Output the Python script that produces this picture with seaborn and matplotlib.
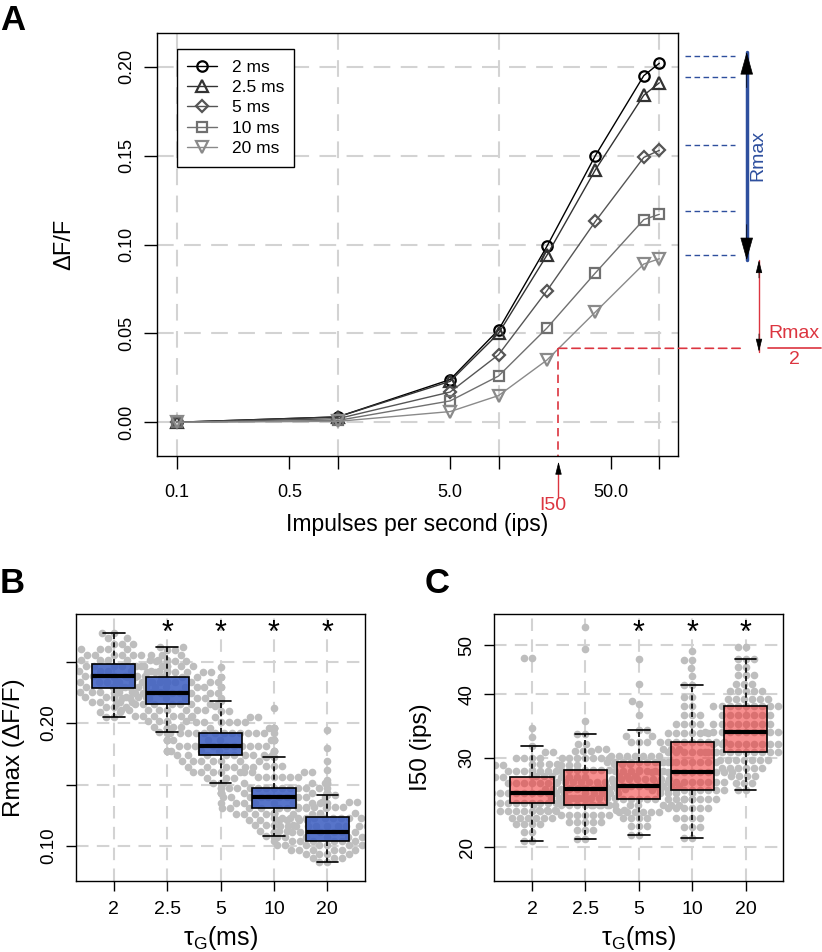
import numpy as np
import matplotlib
matplotlib.use("Agg")
import matplotlib.pyplot as plt
import matplotlib.transforms as mtransforms
from matplotlib.ticker import NullLocator
import seaborn as sns

# ------------------------
# DATA
# ------------------------
# Panel A: response vs stimulation frequency
ips = [0.1, 1, 5, 10, 20, 40, 80, 100]
tau_labels = ["2 ms", "2.5 ms", "5 ms", "10 ms", "20 ms"]
dff_2ms = [0, 0.003, 0.024, 0.052, 0.099, 0.150, 0.195, 0.202]
dff_25ms = [0, 0.003, 0.023, 0.050, 0.094, 0.142, 0.184, 0.191]
dff_5ms = [0, 0.002, 0.017, 0.038, 0.074, 0.113, 0.149, 0.153]
dff_10ms = [0, 0.001, 0.012, 0.026, 0.053, 0.084, 0.114, 0.117]
dff_20ms = [0, 0.0005, 0.006, 0.015, 0.035, 0.062, 0.089, 0.092]

rmax_marks = [0.2058, 0.1944, 0.1558, 0.1191, 0.0940]
rmax_arrow = [0.2083, 0.0912]
half_arrow = [0.0912, 0.0397]
half_rmax = 0.0416
i50 = 23.6

# Panels B and C: groups
tau_groups = ["2", "2.5", "5", "10", "20"]
sig_b = [False, True, True, True, True]
sig_c = [False, False, True, True, True]

# Rmax (dF/F) rows of the swarm: values and how many dots per row
rmax_2_val = [0.205, 0.209, 0.213, 0.217, 0.221, 0.2255, 0.2295, 0.2335, 0.238, 0.242, 0.2465,
              0.251, 0.2555, 0.260, 0.2645, 0.269, 0.273]
rmax_2_cnt = [2, 2, 3, 4, 6, 8, 8, 9, 9, 10, 14, 8, 6, 4, 3, 2, 2]
rmax_25_val = [0.1925, 0.197, 0.2015, 0.206, 0.2105, 0.2155, 0.220, 0.2246, 0.229, 0.2335, 0.2371,
               0.2415, 0.246, 0.2505, 0.255, 0.2595, 0.2615]
rmax_25_cnt = [2, 3, 4, 6, 8, 9, 9, 10, 9, 8, 9, 7, 5, 4, 3, 2, 2]
rmax_5_val = [0.151, 0.1555, 0.160, 0.1645, 0.169, 0.1737, 0.1775, 0.1815, 0.186, 0.1916,
              0.196, 0.2005, 0.205, 0.2095, 0.214, 0.2181, 0.2455]
rmax_5_cnt = [2, 3, 5, 6, 7, 9, 9, 10, 11, 14, 9, 6, 4, 2, 1, 1, 1]
rmax_10_val = [0.108, 0.1125, 0.117, 0.1215, 0.126, 0.1306, 0.135, 0.1396, 0.1435, 0.1472,
               0.1515, 0.156, 0.1605, 0.165, 0.1721, 0.212]
rmax_10_cnt = [2, 3, 4, 6, 8, 9, 9, 10, 11, 14, 8, 6, 4, 3, 2, 1]
rmax_20_val = [0.0867, 0.090, 0.0935, 0.097, 0.1005, 0.1043, 0.1077, 0.1111, 0.1165, 0.1225,
               0.127, 0.1315, 0.136, 0.1415, 0.1537, 0.1618, 0.169, 0.180, 0.1943]
rmax_20_cnt = [2, 3, 4, 6, 8, 9, 9, 10, 11, 13, 8, 6, 4, 2, 1, 1, 1, 1, 1]

# I50 (ips) rows of the swarm
i50_2_val = [20.6, 21.4, 22.2, 22.9, 23.6, 24.5, 25.0, 25.6, 26.2, 26.8, 27.5, 28.3, 29.1,
             30.0, 30.8, 31.6, 33.0, 34.4, 47.2]
i50_2_cnt = [2, 2, 4, 6, 8, 10, 9, 11, 8, 7, 9, 7, 6, 4, 2, 1, 1, 1, 2]
i50_25_val = [20.8, 21.6, 22.4, 23.2, 23.7, 24.2, 25.0, 26.1, 26.9, 27.6, 28.4, 29.2, 30.0,
              31.0, 32.0, 33.5, 35.4, 49.1, 54.3]
i50_25_cnt = [2, 3, 5, 7, 5, 10, 9, 11, 8, 7, 9, 7, 7, 3, 2, 2, 1, 1, 1]
i50_5_val = [21.2, 22.0, 22.8, 23.5, 24.2, 24.9, 25.6, 26.4, 27.3, 28.3, 29.4, 30.3, 31.2,
             32.2, 33.1, 34.0, 36.4, 38.3, 38.9, 42.0, 46.9]
i50_5_cnt = [2, 3, 4, 6, 7, 10, 9, 11, 8, 7, 9, 7, 5, 3, 2, 2, 1, 1, 1, 1, 1]
i50_10_val = [20.9, 21.9, 22.9, 23.9, 24.9, 25.9, 26.9, 28.1, 29.4, 30.8, 32.3, 33.6, 35.0,
              36.5, 38.0, 39.6, 41.8, 43.5, 45.0, 46.8, 48.7]
i50_10_cnt = [2, 3, 4, 6, 7, 10, 9, 11, 8, 7, 9, 6, 4, 3, 2, 2, 2, 1, 1, 2, 1]
i50_20_val = [25.9, 26.8, 27.7, 28.7, 29.7, 30.8, 32.0, 33.8, 35.0, 36.4, 37.9, 39.2, 40.6,
              42.0, 43.6, 45.2, 46.9, 49.5]
i50_20_cnt = [2, 3, 4, 6, 7, 10, 9, 11, 8, 7, 9, 6, 5, 3, 3, 2, 3, 2]

# ------------------------
# STYLE
# ------------------------
sns.set_style("ticks")
plt.rcParams["font.family"] = ["Liberation Sans", "DejaVu Sans"]
plt.rcParams["mathtext.default"] = "regular"
for key in ["text.color", "axes.labelcolor", "xtick.color", "ytick.color", "axes.edgecolor"]:
    plt.rcParams[key] = "black"
plt.rcParams["axes.linewidth"] = 1.0

grid_col = "#d3d3d3"
dot_gray = "#bebebe"
blue = "#2e4f9e"
red = "#dc3540"
line_grays = ["#000000", "#333333", "#555555", "#707070", "#8a8a8a"]
markers = ["o", "^", "D", "s", "v"]
msizes = [7.5, 8.5, 6.5, 6.5, 8.5]

fig = plt.figure(figsize=(8.22, 9.52), dpi=100)
axA = fig.add_axes([0.1910, 0.5210, 0.6338, 0.4443])
axB = fig.add_axes([0.0925, 0.0749, 0.3516, 0.2798])
axC = fig.add_axes([0.6013, 0.0749, 0.3516, 0.2798])

# ------------------------
# PANEL A
# ------------------------
for v in [0.1, 1, 10, 100]:
    axA.axvline(v, color=grid_col, lw=1.5, ls=(0, (8, 5)), zorder=0)
for v in [0, 0.05, 0.10, 0.15, 0.20]:
    axA.axhline(v, color=grid_col, lw=1.5, ls=(0, (8, 5)), zorder=0)

series = [dff_2ms, dff_25ms, dff_5ms, dff_10ms, dff_20ms]
for lab, vals, col, mk, ms in zip(tau_labels, series, line_grays, markers, msizes):
    sns.lineplot(x=ips, y=vals, color=col, marker=mk, markersize=ms, mfc="none",
                 mec=col, mew=1.6, lw=1.0, label=lab, ax=axA)

axA.set_xscale("log")
axA.set_xlim(0.0752, 130.6)
axA.set_ylim(-0.019, 0.219)
axA.xaxis.set_minor_locator(NullLocator())
axA.set_xticks([0.1, 0.5, 1, 5, 10, 50, 100])
axA.set_xticklabels(["0.1", "0.5", "", "5.0", "", "50.0", ""])
axA.set_yticks([0, 0.05, 0.10, 0.15, 0.20])
axA.set_yticklabels(["0.00", "0.05", "0.10", "0.15", "0.20"])
axA.tick_params(axis="x", length=9.4, width=1, pad=11, labelsize=13, direction="out", bottom=True)
axA.tick_params(axis="y", length=9.4, width=1, pad=6, labelsize=13, direction="out", left=True,
                labelrotation=90)
for t in axA.get_yticklabels():
    t.set_va("center")
axA.set_xlabel("Impulses per second (ips)", fontsize=16.5)
axA.set_ylabel("ΔF/F", fontsize=17)
axA.xaxis.set_label_coords(0.5, -0.135)
axA.yaxis.set_label_coords(-0.157, 0.5)

leg = axA.legend(loc="upper left", bbox_to_anchor=(0.0384, 0.962), borderaxespad=0,
                 frameon=True, fancybox=False, edgecolor="black", fontsize=12.5,
                 handlelength=1.7, handletextpad=0.85, labelspacing=0.3, borderpad=0.6)
leg.get_frame().set_linewidth(1.0)
leg.get_frame().set_alpha(1)

# right side annotations
trA = mtransforms.blended_transform_factory(axA.transAxes, axA.transData)
for lv in rmax_marks:
    axA.plot([1.0134, 1.1094], [lv, lv], transform=trA, color=blue, lw=1.0,
             ls=(0, (4, 2.5)), clip_on=False)
axA.plot([1.1319, 1.1319], rmax_arrow, transform=trA, color=blue, lw=2.5, clip_on=False)
for y0, y1 in [(rmax_arrow[0] - 0.02, rmax_arrow[0]), (rmax_arrow[1] + 0.02, rmax_arrow[1])]:
    axA.annotate("", xy=(1.1319, y1), xytext=(1.1319, y0), xycoords=trA, textcoords=trA,
                 arrowprops=dict(arrowstyle="-|>,head_length=1.5,head_width=0.42",
                                 color="black", lw=0.5, shrinkA=0, shrinkB=0,
                                 mutation_scale=10))
axA.text(1.1536, 0.150, "Rmax", transform=trA, rotation=90, color=blue, fontsize=14,
         ha="center", va="center")

axA.plot([1.1555, 1.1555], half_arrow, transform=trA, color=red, lw=1.0, clip_on=False)
for y0, y1 in [(half_arrow[0] - 0.01, half_arrow[0]), (half_arrow[1] + 0.01, half_arrow[1])]:
    axA.annotate("", xy=(1.1555, y1), xytext=(1.1555, y0), xycoords=trA, textcoords=trA,
                 arrowprops=dict(arrowstyle="-|>,head_length=0.8,head_width=0.2",
                                 color="black", lw=0.5, shrinkA=0, shrinkB=0,
                                 mutation_scale=10))
axA.text(1.2226, 0.0502, "Rmax", transform=trA, color=red, fontsize=14, ha="center", va="center")
axA.plot([1.1727, 1.2737], [half_rmax, half_rmax], transform=trA, color=red, lw=1.2, clip_on=False)
axA.text(1.2226, 0.0352, "2", transform=trA, color=red, fontsize=14, ha="center", va="center")

# I50 guides
axA.annotate("", xy=(1.128, half_rmax), xytext=(i50, half_rmax), xycoords=trA, textcoords="data",
             arrowprops=dict(arrowstyle="-", color=red, lw=1.2, linestyle=(0, (5, 3)),
                             shrinkA=0, shrinkB=0))
axA.plot([i50, i50], [half_rmax, -0.019], color=red, lw=1.2, ls=(0, (5, 3)))
trA2 = mtransforms.blended_transform_factory(axA.transData, axA.transAxes)
axA.plot([i50, i50], [-0.097, -0.03], transform=trA2, color=red, lw=1.0, clip_on=False)
axA.annotate("", xy=(i50, -0.0135), xytext=(i50, -0.035), xycoords=trA2, textcoords=trA2,
             arrowprops=dict(arrowstyle="-|>,head_length=0.8,head_width=0.2", color="black",
                             lw=0.5, shrinkA=0, shrinkB=0, mutation_scale=10))
axA.annotate("I50", xy=(i50, -0.117), xycoords=trA2, xytext=(-4, 0), textcoords="offset points",
             color=red, fontsize=14, ha="center", va="center")

# ------------------------
# PANELS B and C
# ------------------------
positions = np.arange(len(tau_groups)) * 0.4


def swarm_box(ax, vals_list, cnt_list, face):
    xs, ys = [], []
    for pos, vals, cnts in zip(positions, vals_list, cnt_list):
        y = np.repeat(vals, cnts)
        x = np.full(len(y), pos)
        sns.swarmplot(x=x, y=y, native_scale=True, orient="x", color=dot_gray, size=5.5,
                      ax=ax, zorder=1, warn_thresh=1)
        xs.append(x)
        ys.append(y)
    sns.boxplot(x=np.concatenate(xs), y=np.concatenate(ys), native_scale=True, orient="x",
                width=0.81, showfliers=False, whis=1.5, ax=ax,
                boxprops=dict(facecolor=face, edgecolor="black", linewidth=1.2, zorder=3),
                whiskerprops=dict(color="black", linestyle=(0, (3, 2)), linewidth=1.2, zorder=3),
                capprops=dict(color="black", linewidth=1.2, zorder=3),
                medianprops=dict(color="black", linewidth=3, zorder=4))


rmax_vals = [rmax_2_val, rmax_25_val, rmax_5_val, rmax_10_val, rmax_20_val]
rmax_cnts = [rmax_2_cnt, rmax_25_cnt, rmax_5_cnt, rmax_10_cnt, rmax_20_cnt]
i50_vals = [i50_2_val, i50_25_val, i50_5_val, i50_10_val, i50_20_val]
i50_cnts = [i50_2_cnt, i50_25_cnt, i50_5_cnt, i50_10_cnt, i50_20_cnt]

swarm_box(axB, rmax_vals, rmax_cnts, (0.25, 0.38, 0.76, 0.88))
swarm_box(axC, i50_vals, i50_cnts, (0.95, 0.2, 0.2, 0.55))

axC.set_yscale("log")

for ax in (axB, axC):
    for p in positions:
        ax.axvline(p, color=grid_col, lw=1.5, ls=(0, (6, 4)), zorder=0)
    ax.set_xlim(-0.2824, 1.8824)
    ax.set_xticks(positions)
    ax.set_xticklabels(tau_groups)
    ax.tick_params(axis="x", length=7.5, width=1, pad=7, labelsize=14, bottom=True)
    ax.tick_params(axis="y", length=7.5, width=1, pad=6, labelsize=13.5, left=True,
                   labelrotation=90)
    ax.set_xlabel("τ$_{G}$(ms)", fontsize=18)
    ax.xaxis.set_label_coords(0.5, -0.163)
    for s in ax.spines.values():
        s.set_color("black")
        s.set_linewidth(1.0)

for v in [0.10, 0.15, 0.20, 0.25]:
    axB.axhline(v, color=grid_col, lw=1.5, ls=(0, (6, 4)), zorder=0)
axB.set_ylim(0.0718, 0.2884)
axB.set_yticks([0.10, 0.15, 0.20, 0.25])
axB.set_yticklabels(["0.10", "", "0.20", ""])
axB.set_ylabel("Rmax (ΔF/F)", fontsize=17.5)
axB.yaxis.set_label_coords(-0.1765, 0.5)

for v in [20, 30, 40, 50]:
    axC.axhline(v, color=grid_col, lw=1.5, ls=(0, (6, 4)), zorder=0)
axC.set_ylim(17.2, 57.5)
axC.yaxis.set_minor_locator(NullLocator())
axC.set_yticks([20, 30, 40, 50])
axC.set_yticklabels(["20", "30", "40", "50"])
axC.set_ylabel("I50 (ips)", fontsize=17.5)
axC.yaxis.set_label_coords(-0.2156, 0.5)

for ax in (axB, axC):
    for t in ax.get_yticklabels():
        t.set_va("center")

for ax, sig in ((axB, sig_b), (axC, sig_c)):
    tr = mtransforms.blended_transform_factory(ax.transData, ax.transAxes)
    for p, s in zip(positions, sig):
        if s:
            ax.text(p, 0.925, "*", transform=tr, fontsize=22, ha="center", va="center")

# panel letters
fig.text(0.0, 0.996, "A", fontsize=25, fontweight="bold", ha="left", va="top")
fig.text(0.0, 0.404, "B", fontsize=25, fontweight="bold", ha="left", va="top")
fig.text(0.516, 0.404, "C", fontsize=25, fontweight="bold", ha="left", va="top")

fig.savefig("out.png", dpi=100)
